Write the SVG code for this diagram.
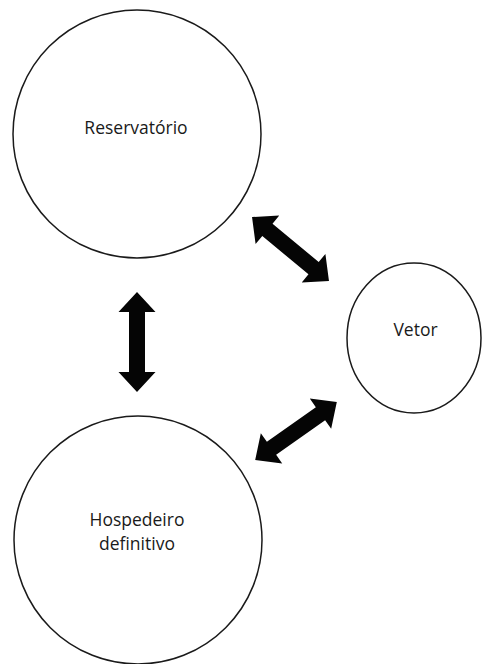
<svg xmlns="http://www.w3.org/2000/svg" xmlns:xlink="http://www.w3.org/1999/xlink" width="482" height="664" viewBox="0 0 482 664">
<style>
.node{fill:#fff;stroke:#1a1a1a;stroke-width:1.5}
.lbl{font-family:"Open Sans","Noto Sans",sans-serif;font-size:17.5px;fill:#1a1a1a;text-anchor:middle}
.arr{fill:#050505}
</style>
<defs>
<path id="dbl" d="M-50,0 L-30,-18.5 L-30,-8 L30,-8 L30,-18.5 L50,0 L30,18.5 L30,8 L-30,8 L-30,18.5 Z"/>
</defs>
<rect width="482" height="664" fill="#fff"/>
<g id="reservatorio">
<circle class="node" cx="137" cy="134" r="124"/>
<text class="lbl" x="136" y="134">Reservatório</text>
</g>
<g id="vetor">
<ellipse class="node" cx="414" cy="338" rx="67" ry="75"/>
<text class="lbl" x="415.5" y="336">Vetor</text>
</g>
<g id="hospedeiro">
<circle class="node" cx="138" cy="540" r="124"/>
<text class="lbl" x="137" y="526">Hospedeiro</text>
<text class="lbl" x="137" y="550">definitivo</text>
</g>
<g id="connectors" class="arr">
<use xlink:href="#dbl" transform="translate(290.5,249) rotate(39.7)"/>
<use xlink:href="#dbl" transform="translate(296,431) rotate(-35.3)"/>
<use xlink:href="#dbl" transform="translate(137,342) rotate(90)"/>
</g>
</svg>
